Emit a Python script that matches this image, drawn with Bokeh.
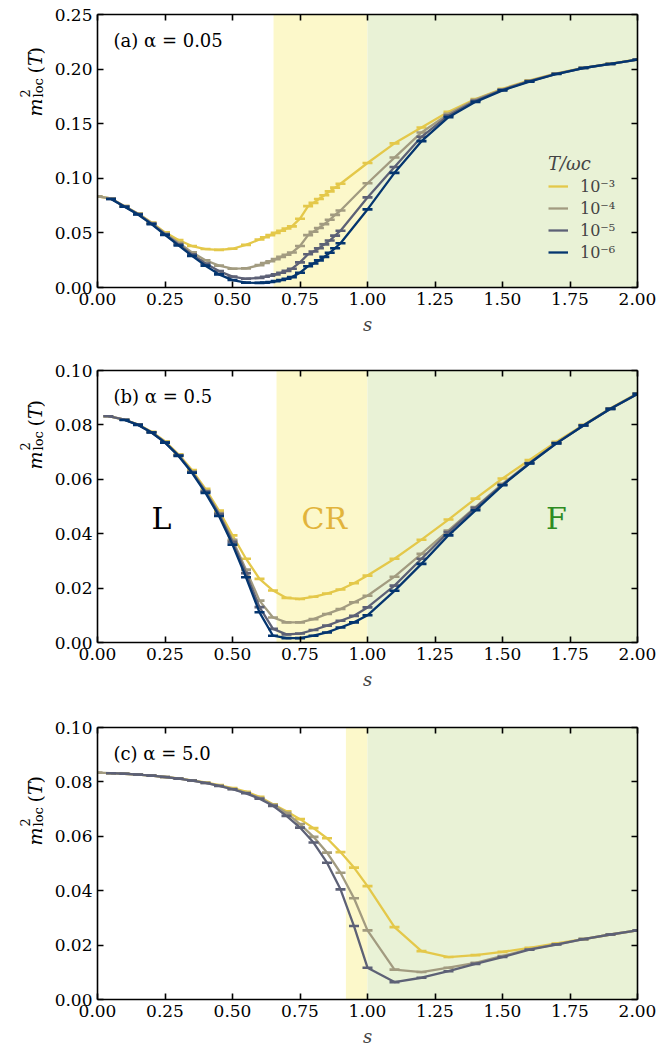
import math
from bokeh.plotting import figure
from bokeh.models import (Range1d, LinearAxis, FixedTicker, NumeralTickFormatter,
                          CustomJSTickFormatter, BoxAnnotation, Label, Legend, LegendItem)
from bokeh.layouts import column, row
from bokeh.embed import file_html
from bokeh.resources import INLINE

nan = float("nan")

# ---------------- data ----------------
temps = ["1e-3", "1e-4", "1e-5", "1e-6"]
legend_labels = ["10⁻³", "10⁻⁴", "10⁻⁵", "10⁻⁶"]
colors = ["#E4C84A", "#A29B80", "#5D6176", "#04356F"]
x_ticks = [0.0, 0.25, 0.5, 0.75, 1.0, 1.25, 1.5, 1.75, 2.0]

# panel (a) alpha = 0.05
s_a = [0.00, 0.05, 0.10, 0.15, 0.20, 0.25, 0.30, 0.35, 0.40, 0.45, 0.50, 0.55, 0.60,
       0.62, 0.64, 0.66, 0.68, 0.70, 0.72, 0.75,
       0.78, 0.80, 0.82, 0.84, 0.86, 0.88, 0.90,
       1.00, 1.10, 1.20, 1.30, 1.40, 1.50, 1.60, 1.70, 1.80, 1.90, 2.00]
m_a_1e3 = [0.0835, 0.0815, 0.0745, 0.0678, 0.0595, 0.0505, 0.0435, 0.0380, 0.0352, 0.0345, 0.0355, 0.0390, 0.0440,
           0.0460, 0.0480, 0.0500, 0.0520, 0.0540, 0.0560, 0.0630,
           0.0745, 0.0775, 0.0810, 0.0845, 0.0880, 0.0915, 0.0950,
           0.1140, 0.1320, 0.1465, 0.1610, 0.1725, 0.1820, 0.1897, 0.1960, 0.2012, 0.2050, 0.2088]
m_a_1e4 = [0.0835, 0.0815, 0.0745, 0.0675, 0.0590, 0.0495, 0.0410, 0.0322, 0.0250, 0.0200, 0.0172, 0.0175, 0.0205,
           0.0225, 0.0240, 0.0260, 0.0280, 0.0300, 0.0320, 0.0380,
           0.0480, 0.0510, 0.0545, 0.0580, 0.0620, 0.0665, 0.0705,
           0.0955, 0.1190, 0.1420, 0.1590, 0.1720, 0.1815, 0.1893, 0.1958, 0.2011, 0.2048, 0.2087]
m_a_1e5 = [nan, 0.0812, 0.0742, 0.0672, 0.0585, 0.0488, 0.0395, 0.0303, 0.0220, 0.0150, 0.0100, 0.0080, 0.0088,
           0.0098, 0.0108, 0.0120, 0.0135, 0.0152, 0.0172, 0.0230,
           0.0305, 0.0330, 0.0360, 0.0395, 0.0430, 0.0475, 0.0520,
           0.0825, 0.1103, 0.1380, 0.1575, 0.1710, 0.1810, 0.1890, 0.1957, 0.2010, 0.2047, 0.2086]
m_a_1e6 = [nan, 0.0810, 0.0740, 0.0668, 0.0580, 0.0482, 0.0385, 0.0290, 0.0200, 0.0120, 0.0068, 0.0045, 0.0042,
           0.0045, 0.0050, 0.0058, 0.0068, 0.0080, 0.0095, 0.0135,
           0.0195, 0.0220, 0.0248, 0.0280, 0.0318, 0.0360, 0.0405,
           0.0715, 0.1050, 0.1340, 0.1560, 0.1700, 0.1805, 0.1885, 0.1955, 0.2010, 0.2047, 0.2086]

# panel (b) alpha = 0.5
s_b = [0.04, 0.10, 0.15, 0.20, 0.25, 0.30, 0.35, 0.40, 0.45, 0.50, 0.55, 0.60, 0.65, 0.70,
       0.75, 0.80, 0.85, 0.90, 0.95, 1.00, 1.10, 1.20, 1.30, 1.40, 1.50, 1.60, 1.70, 1.80, 1.90, 2.00]
m_b_1e3 = [0.0832, 0.0819, 0.0802, 0.0775, 0.0740, 0.0692, 0.0634, 0.0565, 0.0485, 0.0394,
           0.0308, 0.0234, 0.0191, 0.0164, 0.0160, 0.0168, 0.0180, 0.0195, 0.0218, 0.0246,
           0.0308, 0.0378, 0.0452, 0.0529, 0.0603, 0.0671, 0.0738, 0.0800, 0.0861, 0.0916]
m_b_1e4 = [0.0832, 0.0819, 0.0801, 0.0773, 0.0737, 0.0689, 0.0628, 0.0558, 0.0476, 0.0378,
           0.0268, 0.0154, 0.0092, 0.0074, 0.0074, 0.0086, 0.0105, 0.0123, 0.0148, 0.0172,
           0.0242, 0.0326, 0.0412, 0.0498, 0.0583, 0.0661, 0.0734, 0.0799, 0.0860, 0.0915]
m_b_1e5 = [0.0832, 0.0819, 0.0801, 0.0773, 0.0736, 0.0688, 0.0627, 0.0555, 0.0472, 0.0370,
           0.0255, 0.0130, 0.0050, 0.0030, 0.0033, 0.0046, 0.0062, 0.0080, 0.0098, 0.0129,
           0.0209, 0.0308, 0.0406, 0.0495, 0.0580, 0.0659, 0.0733, 0.0798, 0.0859, 0.0914]
m_b_1e6 = [nan, 0.0818, 0.0800, 0.0772, 0.0735, 0.0686, 0.0624, 0.0550, 0.0465, 0.0360,
           0.0240, 0.0111, 0.0025, 0.0016, 0.0016, 0.0025, 0.0037, 0.0055, 0.0074, 0.0100,
           0.0190, 0.0289, 0.0394, 0.0486, 0.0578, 0.0658, 0.0732, 0.0798, 0.0859, 0.0914]

# panel (c) alpha = 5.0
s_c = [0.00, 0.05, 0.10, 0.15, 0.20, 0.25, 0.30, 0.35, 0.40, 0.45, 0.50, 0.55, 0.60, 0.65, 0.70,
       0.75, 0.80, 0.85, 0.90, 0.95, 1.00, 1.10, 1.20, 1.30, 1.40, 1.50, 1.60, 1.70, 1.80, 1.90, 2.00]
m_c_1e3 = [nan, 0.0832, 0.0830, 0.0827, 0.0823, 0.0818, 0.0813, 0.0806, 0.0798, 0.0788, 0.0777,
           0.0764, 0.0745, 0.0718, 0.0692, 0.0663, 0.0630, 0.0593, 0.0542, 0.0485, 0.0417,
           0.0266, 0.0178, 0.0156, 0.0163, 0.0175, 0.0190, 0.0206, 0.0222, 0.0239, 0.0254]
m_c_1e4 = [0.0834, 0.0832, 0.0830, 0.0827, 0.0823, 0.0818, 0.0812, 0.0805, 0.0796, 0.0786, 0.0774,
           0.0760, 0.0741, 0.0716, 0.0686, 0.0645, 0.0598, 0.0540, 0.0466, 0.0372, 0.0254,
           0.0110, 0.0101, 0.0117, 0.0135, 0.0160, 0.0185, 0.0203, 0.0222, 0.0239, 0.0254]
m_c_1e5 = [nan, 0.0832, 0.0830, 0.0827, 0.0823, 0.0818, 0.0812, 0.0805, 0.0796, 0.0785, 0.0773,
           0.0758, 0.0738, 0.0712, 0.0675, 0.0632, 0.0577, 0.0503, 0.0405, 0.0270, 0.0117,
           0.0064, 0.0080, 0.0104, 0.0131, 0.0156, 0.0183, 0.0202, 0.0222, 0.0239, 0.0254]

# crossover region start (CR) per panel; F region from s = 1
cr_start = {"a": 0.652, "b": 0.663, "c": 0.92}

# ---------------- style ----------------
FONT = "DejaVu Serif"
CR_COLOR = "#FCF8CA"
F_COLOR = "#E9F2D6"
TICK_FS = "17px"
LAB_W = 45          # width of the strip carrying the y-axis label
FRAME_W = 540


def style_axis(ax, ticks, show):
    ax.ticker = FixedTicker(ticks=ticks)
    ax.major_tick_in = 6
    ax.major_tick_out = 0
    ax.minor_tick_line_color = None
    ax.axis_line_width = 1.6
    ax.major_tick_line_width = 1.6
    ax.axis_line_color = "black"
    ax.major_tick_line_color = "black"
    ax.major_label_text_font = FONT
    ax.major_label_text_color = "black"
    if show:
        ax.formatter = NumeralTickFormatter(format="0.00")
        ax.major_label_text_font_size = TICK_FS
        ax.major_label_standoff = 5
    else:
        ax.formatter = CustomJSTickFormatter(code="return ''")
        ax.major_label_text_font_size = "0px"
        ax.major_label_standoff = 0


def ylabel_strip(fig_height, bottom):
    q = figure(width=LAB_W, height=fig_height, min_border=0,
               x_axis_location=None, y_axis_location=None,
               x_range=Range1d(0, 1), y_range=Range1d(0, 1),
               output_backend="svg", toolbar_location=None)
    q.grid.visible = False
    q.outline_line_color = None
    fm, fsub = 19, 13
    bx = 34
    pieces = [
        ("m", fm, "italic", bx, 102),
        ("2", fsub, "normal", bx - 10, 121),
        ("loc", fsub, "normal", bx + 4, 121),
        ("(", fm, "normal", bx, 145),
        ("T", fm, "italic", bx, 152.5),
        (")", fm, "normal", bx, 164),
    ]
    for txt, fs, style, x, y in pieces:
        q.add_layout(Label(x=x, y=bottom + y, x_units="screen", y_units="screen", text=txt,
                           angle=math.pi / 2, text_font=FONT, text_font_size=f"{fs}px",
                           text_font_style=style, text_align="left",
                           text_baseline="alphabetic", text_color="black"))
    return q


def make_panel(key, s, series, ymax, yticks, tag, frame_h, bottom, label_standoff):
    p = figure(frame_width=FRAME_W, frame_height=frame_h,
               min_border_left=97 - LAB_W, min_border_right=26, min_border_top=14,
               min_border_bottom=bottom,
               x_range=Range1d(0, 2), y_range=Range1d(0, ymax),
               output_backend="svg", toolbar_location=None)
    p.grid.visible = False
    p.outline_line_color = None
    p.background_fill_color = "white"
    p.border_fill_color = "white"

    style_axis(p.xaxis[0], x_ticks, True)
    style_axis(p.yaxis[0], yticks, True)
    p.xaxis[0].axis_label = "s"
    p.xaxis[0].axis_label_text_font = FONT
    p.xaxis[0].axis_label_text_font_style = "italic"
    p.xaxis[0].axis_label_text_font_size = "18px"
    p.xaxis[0].axis_label_standoff = label_standoff
    top = LinearAxis()
    style_axis(top, x_ticks, False)
    p.add_layout(top, "above")
    right = LinearAxis()
    style_axis(right, yticks, False)
    p.add_layout(right, "right")

    p.add_layout(BoxAnnotation(left=cr_start[key], right=1.0, fill_color=CR_COLOR,
                               fill_alpha=1.0, line_color=None, level="underlay"))
    p.add_layout(BoxAnnotation(left=1.0, right=2.0, fill_color=F_COLOR,
                               fill_alpha=1.0, line_color=None, level="underlay"))

    items = []
    for (m, c, lab) in series:
        lr = p.line(s, m, line_color=c, line_width=2.3)
        p.scatter(s, m, marker="dash", size=10, line_color=c, line_width=2.6)
        dummy = p.scatter(x=[], y=[], marker="cross", size=10, line_color=c, line_width=2.6)
        items.append(LegendItem(label=lab, renderers=[lr, dummy]))

    p.add_layout(Label(x=16, y=frame_h - 26, x_units="screen", y_units="screen", text=tag,
                       text_font=FONT, text_font_size="18px", text_baseline="middle",
                       text_color="black"))
    strip = ylabel_strip(14 + frame_h + bottom, bottom)
    return p, strip, items


pa, la, items_a = make_panel("a", s_a,
                             [(m_a_1e3, colors[0], legend_labels[0]),
                              (m_a_1e4, colors[1], legend_labels[1]),
                              (m_a_1e5, colors[2], legend_labels[2]),
                              (m_a_1e6, colors[3], legend_labels[3])],
                             0.25, [0.0, 0.05, 0.10, 0.15, 0.20, 0.25], "(a) α = 0.05",
                             273, 69, 6)
legend = Legend(items=items_a, location=(451, 25), title="T/ωc",
                title_text_font=FONT, title_text_font_style="italic",
                title_text_font_size="18px", title_standoff=2,
                label_text_font=FONT, label_text_font_size="16px",
                glyph_width=20, glyph_height=20, label_height=20,
                label_standoff=12, spacing=2,
                padding=0, margin=0, background_fill_alpha=0, border_line_alpha=0)
pa.add_layout(legend, "center")

pb, lb, _ = make_panel("b", s_b,
                       [(m_b_1e3, colors[0], legend_labels[0]),
                        (m_b_1e4, colors[1], legend_labels[1]),
                        (m_b_1e5, colors[2], legend_labels[2]),
                        (m_b_1e6, colors[3], legend_labels[3])],
                       0.10, [0.0, 0.02, 0.04, 0.06, 0.08, 0.10], "(b) α = 0.5",
                       272, 71, 6)
for txt, xs, col in [("L", 0.237, "black"), ("CR", 0.84, "#E2B43C"), ("F", 1.70, "#2E8B22")]:
    pb.add_layout(Label(x=xs, y=0.0455, text=txt, text_font=FONT, text_font_size="30px",
                        text_align="center", text_baseline="middle", text_color=col))

pc, lc, _ = make_panel("c", s_c,
                       [(m_c_1e3, colors[0], legend_labels[0]),
                        (m_c_1e4, colors[1], legend_labels[1]),
                        (m_c_1e5, colors[2], legend_labels[2])],
                       0.10, [0.0, 0.02, 0.04, 0.06, 0.08, 0.10], "(c) α = 5.0",
                       272, 52, 6)

layout = column(row(la, pa), row(lb, pb), row(lc, pc))
open("out.html", "w").write(file_html(layout, INLINE))
